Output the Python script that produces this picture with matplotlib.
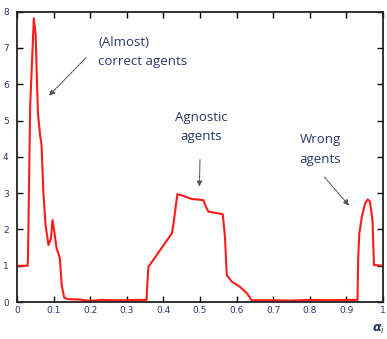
import matplotlib
matplotlib.use("Agg")
import matplotlib.pyplot as plt

# Data
x_vals = [0.0, 0.029, 0.030, 0.036, 0.046, 0.051, 0.057, 0.063, 0.067, 0.072, 0.078,
          0.086, 0.093, 0.097, 0.102, 0.108, 0.117, 0.122, 0.129, 0.14, 0.17, 0.2,
          0.23, 0.26, 0.3, 0.33, 0.354,
          0.356, 0.359, 0.382, 0.404, 0.423, 0.427, 0.438, 0.45, 0.477, 0.509, 0.514,
          0.523, 0.546, 0.562, 0.568, 0.573, 0.587, 0.609, 0.628, 0.641,
          0.7, 0.75, 0.8, 0.85, 0.9, 0.93,
          0.932, 0.935, 0.942, 0.951, 0.958, 0.964, 0.971, 0.975, 1.0]
y_vals = [1.0, 1.0, 1.2, 5.4, 7.82, 7.36, 5.24, 4.6, 4.33, 3.04, 2.12,
          1.57, 1.76, 2.26, 1.94, 1.49, 1.21, 0.47, 0.12, 0.08, 0.07, 0.03,
          0.06, 0.05, 0.05, 0.06, 0.06,
          0.5, 0.97, 1.3, 1.62, 1.89, 2.12, 2.97, 2.94, 2.84, 2.81, 2.67,
          2.49, 2.45, 2.42, 1.8, 0.74, 0.56, 0.42, 0.24, 0.05,
          0.05, 0.04, 0.06, 0.05, 0.06, 0.06,
          1.2, 1.89, 2.35, 2.72, 2.83, 2.77, 2.26, 1.02, 1.0]

x_ticks = [0, 0.1, 0.2, 0.3, 0.4, 0.5, 0.6, 0.7, 0.8, 0.9, 1]
x_tick_labels = ["0", "0.1", "0.2", "0.3", "0.4", "0.5", "0.6", "0.7", "0.8", "0.9", "1"]
y_ticks = [0, 1, 2, 3, 4, 5, 6, 7, 8]
y_tick_labels = ["0", "1", "2", "3", "4", "5", "6", "7", "8"]

text_color = "#2b3566"

fig = plt.figure(figsize=(3.87, 3.39), dpi=100)
ax = fig.add_axes([0.0439, 0.109, 0.946, 0.8565])
ax.plot(x_vals, y_vals, color="#ff1a1a", lw=1.5)
ax.set_xlim(0, 1)
ax.set_ylim(0, 8)
ax.set_xticks(x_ticks)
ax.set_xticklabels(x_tick_labels)
ax.set_yticks(y_ticks)
ax.set_yticklabels(y_tick_labels)
ax.tick_params(direction="in", length=4, width=1, top=True, right=True,
               labelsize=6.5, labelcolor=text_color, pad=3)
ax.tick_params(axis="y", pad=6)
for s in ax.spines.values():
    s.set_linewidth(1.3)
    s.set_color("#222222")

font = dict(family="Open Sans", fontsize=9.5, color=text_color)
ax.text(0.222, 6.89, "(Almost)\ncorrect agents", ha="left", va="center",
        linespacing=1.6, **font)
ax.text(0.503, 4.81, "Agnostic\nagents", ha="center", va="center",
        linespacing=1.6, **font)
ax.text(0.828, 4.2, "Wrong\nagents", ha="center", va="center",
        linespacing=1.7, **font)

arrow = dict(arrowstyle="-|>", color="#555555", lw=0.8, ls=(0, (2, 1)),
             mutation_scale=8)
ax.annotate("", xy=(0.082, 5.63), xytext=(0.194, 6.79), arrowprops=arrow)
ax.annotate("", xy=(0.498, 3.1), xytext=(0.5, 4.0), arrowprops=arrow)
ax.annotate("", xy=(0.912, 2.6), xytext=(0.835, 3.5), arrowprops=arrow)

fig.text(0.977, 0.027, r"$\boldsymbol{\alpha}_i$", ha="center", va="center",
         fontsize=9, color=text_color)

fig.savefig("out.png", dpi=100)
